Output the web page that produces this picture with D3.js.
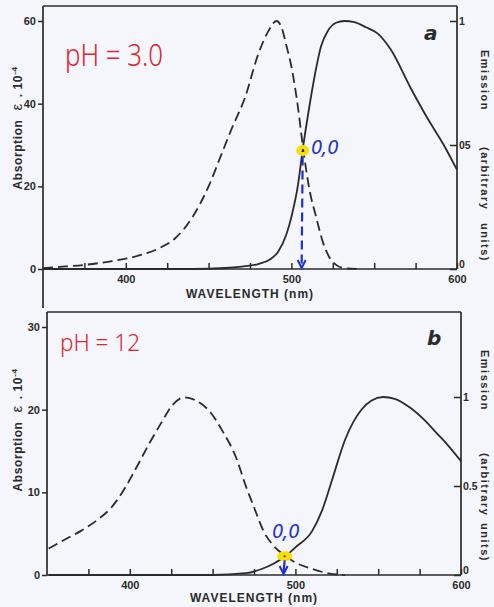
<!DOCTYPE html>
<html>
<head>
<meta charset="utf-8">
<script src="https://cdn.jsdelivr.net/npm/d3@7"></script>
<style>
body { margin: 0; background: #f4f6fb; }
svg { display: block; }
.tick text { font-family: "Liberation Sans", Arial, sans-serif; font-weight: bold; font-size: 11px; fill: #2b2b2b; }
.emaxis .tick text { font-size: 10.5px; }
</style>
</head>
<body>
<svg id="canvas" width="494" height="607"></svg>
<script>
// [wavelength nm, value]
// pH 3.0 : absorption (eps . 10^-4) and emission (arbitrary units)
var absorptionA = [[350,0.2],[360,0.5],[375,1.0],[390,1.8],[400,2.5],[410,3.5],[420,5],[430,7.5],[440,12.4],
    [450,20],[458,28],[464,34],[472,41.5],[480,52],[486,57.5],[491,60],[494,58.5],[497,54],[500,49],
    [504,39],[507,29.4],[511,19],[515,12.5],[519,6.5],[523,2.8],[527,1],[532,0.2],[540,0]];
var emissionA = [[350,0],[440,0],[460,0.004],[470,0.01],[480,0.02],[487,0.038],[492,0.07],[497,0.14],
    [500,0.21],[504,0.34],[507,0.49],[510,0.62],[513,0.74],[518,0.9],[522,0.96],[527,0.993],[532,1.0],
    [538,0.995],[545,0.975],[552,0.95],[560,0.885],[572,0.73],[582,0.61],[592,0.5],[600,0.4]];
// pH 12
var absorptionB = [[351,3.2],[360,4.2],[371,5.4],[380,6.6],[389,8.2],[397,10.5],[404,13],[412,16],
    [419,18.4],[426,20.6],[433,21.5],[440,21.1],[449,19.6],[456,17.4],[464,14.3],[470,10.8],[475,8.2],
    [481,5.2],[487,3.5],[494,2.3],[500,1.5],[510,0.75],[520,0.2],[530,0]];
var emissionB = [[351,0],[450,0],[470,0.01],[480,0.035],[487,0.065],[494,0.105],[500,0.155],[510,0.245],
    [516,0.36],[522,0.53],[530,0.76],[535,0.86],[540,0.93],[546,0.98],[553,1.0],[560,0.99],[570,0.935],
    [578,0.87],[585,0.8],[592,0.73],[600,0.64]];

var wavelengthTicks = [375, 400, 425, 450, 475, 500, 525, 550, 575, 600];
var wavelengthLabels = [400, 500, 600];
var absTicksA = [0, 20, 40, 60];
var absTicksB = [0, 10, 20, 30];
var emTicks = [0, 0.5, 1];
var emLabelsA = ['0', '05', '1'];
var emLabelsB = ['0', '0.5', '1'];
// 0,0 crossing points [nm, emission]
var crossingA = [506.8, 0.49];
var crossingB = [493.5, 0.105];

var ink = '#2b2b2b';
var svg = d3.select('#canvas');

let panels = [
    {abs: absorptionA, em: emissionA, absTicks: absTicksA, absMax: 60, emLabels: emLabelsA, cross: crossingA,
     left: 43, right: 457, top: 6, bottom: 269, absTop: 21, emTop: 21, leftEnd: 308,
     ph: 'pH = 3.0', phX: 65, phY: 66, phSize: 32, phLen: 98, letter: 'a', letterX: 424, letterY: 40,
     zeroX: 311, zeroY: 154, absTitleY: 128, emWords: [50, 147, 223], ring: true, titleY: 298},
    {abs: absorptionB, em: emissionB, absTicks: absTicksB, absMax: 30, emLabels: emLabelsB, cross: crossingB,
     left: 47, right: 461, top: 312, bottom: 575, absTop: 327, emTop: 397, leftEnd: 575,
     ph: 'pH = 12', phX: 60, phY: 351, phSize: 24, phLen: 80, letter: 'b', letterX: 427, letterY: 345,
     zeroX: 272, zeroY: 538, absTitleY: 430, emWords: [350, 453, 523], ring: false, titleY: 602}
];

let drawPanel = (p) => {
    let x = d3.scaleLinear().domain([350, 600]).range([p.left, p.right]);
    let yAbs = d3.scaleLinear().domain([0, p.absMax]).range([p.bottom, p.absTop]);
    let yEm = d3.scaleLinear().domain([0, 1]).range([p.bottom, p.emTop]);
    let g = svg.append('g');

    // frame
    let frame = [[p.left, p.top, p.right, p.top], [p.left, p.top, p.left, p.leftEnd],
                 [p.right, p.top, p.right, p.bottom], [p.left, p.bottom, p.right, p.bottom]];
    g.selectAll('line.frame').data(frame).enter().append('line')
        .attr('class', 'frame')
        .attr('x1', d => d[0]).attr('y1', d => d[1]).attr('x2', d => d[2]).attr('y2', d => d[3])
        .attr('stroke', ink).attr('stroke-width', 1.7);

    let left = g.append('g').attr('transform', 'translate(' + p.left + ',0)')
        .call(d3.axisLeft(yAbs).tickValues(p.absTicks).tickSize(5).tickPadding(2));
    let right = g.append('g').attr('class', 'emaxis').attr('transform', 'translate(' + p.right + ',0)')
        .call(d3.axisRight(yEm).tickValues(emTicks).tickFormat((d, i) => p.emLabels[i])
            .tickSizeInner(-7).tickSizeOuter(0).tickPadding(2));
    // the 0 label sits above the 600 label
    right.selectAll('.tick text').filter(d => d === 0).attr('dy', '-0.15em');
    let bottom = g.append('g').attr('transform', 'translate(0,' + p.bottom + ')')
        .call(d3.axisBottom(x).tickValues(wavelengthTicks)
            .tickFormat(d => wavelengthLabels.includes(d) ? d : '')
            .tickSizeInner(-6).tickSizeOuter(0).tickPadding(6));
    [left, right, bottom].forEach(a => {
        a.select('.domain').remove();
        a.selectAll('.tick line').attr('stroke', ink).attr('stroke-width', 1.5);
    });

    // curves
    let absLine = d3.line().x(d => x(d[0])).y(d => yAbs(d[1])).curve(d3.curveMonotoneX);
    let emLine = d3.line().x(d => x(d[0])).y(d => yEm(d[1])).curve(d3.curveMonotoneX);
    g.append('path').attr('d', absLine(p.abs)).attr('fill', 'none').attr('stroke', ink)
        .attr('stroke-width', 1.8).attr('stroke-dasharray', '10,5');
    g.append('path').attr('d', emLine(p.em)).attr('fill', 'none').attr('stroke', ink)
        .attr('stroke-width', 1.8);

    // 0,0 marker and arrow
    let cx = x(p.cross[0]), cy = yEm(p.cross[1]);
    if (p.ring) {
        g.append('ellipse').attr('cx', cx).attr('cy', cy + 3).attr('rx', 4.5).attr('ry', 3.5)
            .attr('fill', 'none').attr('stroke', '#f7e000').attr('stroke-width', 4);
    } else {
        g.append('ellipse').attr('cx', cx).attr('cy', cy).attr('rx', 7.5).attr('ry', 5)
            .attr('fill', '#f7e000');
        g.append('circle').attr('cx', cx).attr('cy', cy).attr('r', 1).attr('fill', '#333');
    }
    let arrowTop = p.ring ? cy + 9 : cy + 4;
    g.append('line').attr('x1', cx).attr('x2', cx - 1).attr('y1', arrowTop).attr('y2', p.bottom - 3)
        .attr('stroke', '#1f2fc8').attr('stroke-width', 2.2)
        .attr('stroke-dasharray', p.ring ? '9,5' : null);
    g.append('path')
        .attr('d', 'M' + (cx - 5) + ',' + (p.bottom - 9) + 'L' + (cx - 1) + ',' + (p.bottom - 1) + 'L' + (cx + 3) + ',' + (p.bottom - 9))
        .attr('fill', 'none').attr('stroke', '#1f2fc8').attr('stroke-width', 2);

    // texts
    g.append('text').text(p.ph).attr('x', p.phX).attr('y', p.phY)
        .attr('textLength', p.phLen).attr('lengthAdjust', 'spacingAndGlyphs')
        .style('font', '300 ' + p.phSize + 'px "Noto Sans", sans-serif').attr('fill', '#d8262e');
    g.append('text').text(p.letter).attr('x', p.letterX).attr('y', p.letterY)
        .style('font', 'italic bold 20px "DejaVu Sans", sans-serif').attr('fill', ink);
    g.append('text').text('0,0').attr('x', p.zeroX).attr('y', p.zeroY)
        .style('font', 'italic 20px "Noto Sans", sans-serif').attr('fill', '#2233cc');

    g.append('text').text('WAVELENGTH (nm)').attr('x', (p.left + p.right) / 2).attr('y', p.titleY)
        .attr('text-anchor', 'middle').attr('fill', ink)
        .style('font', 'bold 12px "Liberation Sans", sans-serif').style('letter-spacing', '1px');

    let at = g.append('text').attr('transform', 'translate(22,' + p.absTitleY + ') rotate(-90)')
        .attr('text-anchor', 'middle').attr('fill', ink)
        .style('font', 'bold 12px "Liberation Sans", sans-serif').style('letter-spacing', '0.6px');
    at.append('tspan').text('Absorption');
    at.append('tspan').attr('dx', 9).style('font-size', '15px').style('font-weight', 'normal').text('ε');
    at.append('tspan').attr('dx', 2).text(' . 10');
    at.append('tspan').attr('dy', -5).style('font-size', '8px').text('-4');

    ['Emission', '(arbitrary', 'units)'].forEach((w, i) => {
        g.append('text').text(w).attr('transform', 'translate(481,' + p.emWords[i] + ') rotate(90)')
            .attr('fill', ink).style('font', 'bold 11px "Liberation Sans", sans-serif')
            .style('letter-spacing', '1.5px');
    });
};

panels.forEach(drawPanel);
</script>
</body>
</html>
